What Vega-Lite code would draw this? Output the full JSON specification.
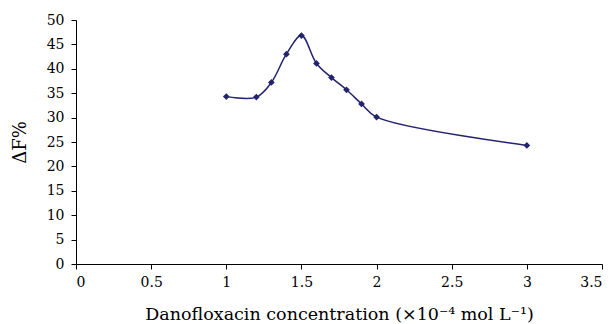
{
  "$schema": "https://vega.github.io/schema/vega-lite/v6.json",
  "width": 526,
  "height": 244,
  "autosize": {"type": "none"},
  "padding": {"left": 76, "top": 20, "right": 14, "bottom": 60},
  "background": "white",
  "config": {
    "view": {"stroke": null},
    "font": "DejaVu Serif",
    "axis": {
      "labelFont": "DejaVu Serif",
      "titleFont": "DejaVu Serif",
      "labelFontSize": 14,
      "titleFontSize": 17.5,
      "labelColor": "black",
      "titleColor": "black",
      "titleFontWeight": "normal",
      "domainColor": "black",
      "tickColor": "black",
      "grid": false,
      "tickSize": 5,
      "domainWidth": 1,
      "tickWidth": 1
    }
  },
  "data": {
    "values": [
      {"c": 1.0, "f": 34.3},
      {"c": 1.2, "f": 34.2},
      {"c": 1.3, "f": 37.2},
      {"c": 1.4, "f": 43.0},
      {"c": 1.5, "f": 46.8},
      {"c": 1.6, "f": 41.1},
      {"c": 1.7, "f": 38.2},
      {"c": 1.8, "f": 35.7},
      {"c": 1.9, "f": 32.8},
      {"c": 2.0, "f": 30.1},
      {"c": 3.0, "f": 24.3}
    ]
  },
  "encoding": {
    "x": {
      "field": "c",
      "type": "quantitative",
      "scale": {"domain": [0, 3.5], "nice": false},
      "axis": {"values": [0, 0.5, 1, 1.5, 2, 2.5, 3, 3.5], "format": "~g", "title": "Danofloxacin concentration (×10⁻⁴ mol L⁻¹)", "labelPadding": 6, "titlePadding": 16}
    },
    "y": {
      "field": "f",
      "type": "quantitative",
      "scale": {"domain": [0, 50], "nice": false},
      "axis": {"values": [0, 5, 10, 15, 20, 25, 30, 35, 40, 45, 50], "title": "ΔF%", "titleFontSize": 18, "labelPadding": 7, "titlePadding": 17}
    }
  },
  "layer": [
    {"mark": {"type": "line", "interpolate": "catmull-rom", "color": "#23236e", "strokeWidth": 1.5}},
    {"mark": {"type": "point", "shape": "diamond", "filled": true, "color": "#23236e", "size": 45, "opacity": 1}}
  ]
}
